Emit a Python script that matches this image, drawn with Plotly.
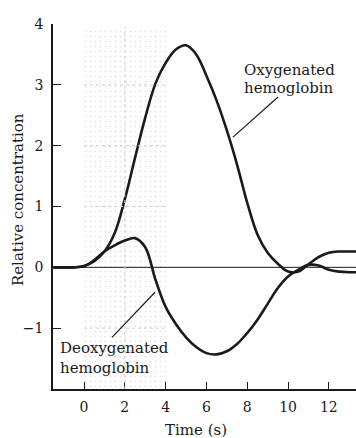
import plotly.graph_objects as go

# Time points (s)
t = [-1.5, -1.0, -0.5, 0.0, 0.5, 1.0, 1.5, 2.0, 2.5, 3.0, 3.5, 4.0, 4.5, 5.0, 5.5, 6.0, 6.5,
     7.0, 7.5, 8.0, 8.5, 9.0, 9.5, 10.0, 10.5, 11.0, 11.5, 12.0, 12.5, 13.0, 13.5]

# Oxygenated hemoglobin
oxy_v = [0.0, 0.0, 0.0, 0.02, 0.1, 0.26, 0.56, 1.12, 1.8, 2.46, 3.02, 3.36, 3.58, 3.65, 3.5, 3.15, 2.74,
         2.25, 1.69, 1.06, 0.54, 0.24, 0.06, -0.07, -0.07, 0.05, 0.17, 0.24, 0.26, 0.26, 0.26]

# Deoxygenated hemoglobin
deo_v = [0.0, 0.0, 0.0, 0.02, 0.12, 0.26, 0.36, 0.44, 0.48, 0.33, -0.2, -0.65, -0.93, -1.15, -1.31, -1.41, -1.43,
         -1.38, -1.26, -1.08, -0.86, -0.6, -0.34, -0.15, -0.04, 0.04, 0.03, -0.04, -0.07, -0.08, -0.08]

x_ticks = [0, 2, 4, 6, 8, 10, 12]
y_ticks = [-1, 0, 1, 2, 3, 4]
y_tick_text = ["\u22121", "0", "1", "2", "3", "4"]

stim_start, stim_end = 0, 4
grid_y = [-1, 1, 2, 3]

FONT = "DejaVu Serif"
INK = "#1a1a1a"
DOT = "#cfcfcf"

fig = go.Figure()

# stippled stimulus region
fig.add_trace(go.Bar(
    x=[(stim_start + stim_end) / 2], y=[5.95], base=[-2.0], width=[stim_end - stim_start],
    marker=dict(color="white", line=dict(width=0),
                pattern=dict(shape=".", fgcolor=DOT, bgcolor="white", size=5, solidity=0.15)),
    hoverinfo="skip", showlegend=False,
))

# dotted grid inside stimulus region
for gy in grid_y:
    fig.add_shape(type="line", x0=stim_start, x1=stim_end, y0=gy, y1=gy,
                  line=dict(color=DOT, width=1, dash="dot"), layer="above")
fig.add_shape(type="line", x0=2, x1=2, y0=-2, y1=3.95,
              line=dict(color=DOT, width=1, dash="dot"), layer="above")

# zero line
fig.add_trace(go.Scatter(x=[t[0] - 0.1, t[-1]], y=[0, 0], mode="lines",
                         line=dict(color=INK, width=1), hoverinfo="skip", showlegend=False))

fig.add_trace(go.Scatter(x=t, y=oxy_v, mode="lines",
                         line=dict(color=INK, width=2.6, shape="spline", smoothing=1.0), showlegend=False))
fig.add_trace(go.Scatter(x=t, y=deo_v, mode="lines",
                         line=dict(color=INK, width=2.6, shape="spline", smoothing=1.0), showlegend=False))

lab_font = dict(family=FONT, size=15, color=INK)

# Oxygenated label (two lines, tight leading)
fig.add_annotation(x=10.05, y=3.24, text="Oxygenated", showarrow=False, font=lab_font,
                   xanchor="center", yanchor="middle")
fig.add_annotation(x=10.05, y=2.95, text="hemoglobin", showarrow=False, font=lab_font,
                   xanchor="center", yanchor="middle")
fig.add_shape(type="line", x0=9.51, y0=2.80, x1=7.30, y1=2.14, line=dict(color=INK, width=1.2))

# Deoxygenated label
fig.add_annotation(x=-1.28, y=-1.32, text="Deoxygenated", showarrow=False, font=lab_font,
                   xanchor="left", yanchor="middle")
fig.add_annotation(x=-1.28, y=-1.66, text="hemoglobin", showarrow=False, font=lab_font,
                   xanchor="left", yanchor="middle")
fig.add_shape(type="line", x0=1.37, y0=-1.15, x1=3.48, y1=-0.41, line=dict(color=INK, width=1.2))

# axis titles
fig.add_annotation(x=0.472, xref="paper", y=-0.112, yref="paper", text="Time (s)", showarrow=False,
                   font=lab_font, xanchor="center", yanchor="middle")
fig.add_annotation(x=-0.116, xref="paper", y=0.52, yref="paper", text="Relative concentration",
                   showarrow=False, textangle=-90, font=lab_font, xanchor="center", yanchor="middle")

fig.update_layout(
    width=356, height=438,
    margin=dict(l=53, r=0, t=24, b=49),
    paper_bgcolor="white", plot_bgcolor="white",
    font=dict(family=FONT, size=14, color=INK),
    bargap=0,
    xaxis=dict(range=[-1.52, 13.33], tickvals=x_ticks, ticks="inside", ticklen=7, tickwidth=1.2,
               tickcolor=INK, showline=True, linecolor=INK, linewidth=1.5, showgrid=False, zeroline=False,
               ticklabelstandoff=4, fixedrange=True),
    yaxis=dict(range=[-2.0, 4.0], tickvals=y_ticks, ticktext=y_tick_text, ticks="inside", ticklen=8,
               tickwidth=1.2, tickcolor=INK, showline=True, linecolor=INK, linewidth=1.5, showgrid=False,
               zeroline=False, ticklabelstandoff=5, fixedrange=True),
)

fig.write_html("out.html", config={"displayModeBar": False})
